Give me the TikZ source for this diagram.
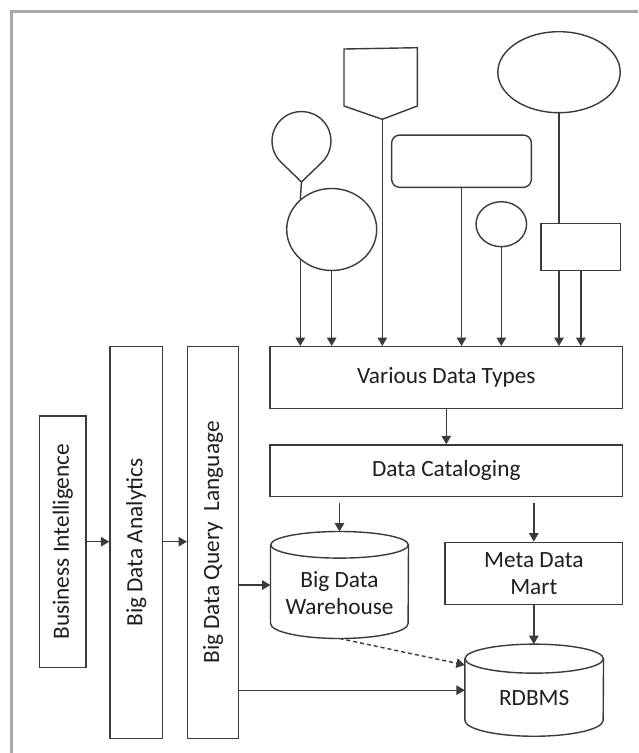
\documentclass[tikz,border=0pt]{standalone}
\usepackage{fontspec}
\setmainfont{Carlito}
\usepackage{xcolor}
\usepackage{tikz}
\usetikzlibrary{shapes.geometric,arrows.meta}
\definecolor{linecolor}{HTML}{3a3a3a}
\definecolor{textcolor}{HTML}{1e1e1e}
\definecolor{framecolor}{HTML}{a8a8a8}
\tikzset{
  box/.style={draw=linecolor, line width=1.4pt, rectangle, inner sep=0pt, text=textcolor, align=center, font=\fontsize{23.3pt}{26.7pt}\selectfont},
  blob/.style={draw=linecolor, line width=1.4pt, ellipse, inner sep=0pt},
  cylbox/.style={rectangle, inner sep=0pt},
  cylline/.style={draw=linecolor, line width=1.4pt},
  ctext/.style={align=center, yshift=-8pt, text=textcolor, font=\fontsize{23.3pt}{26.7pt}\selectfont},
  arr/.style={draw=linecolor, line width=1.4pt, -{Triangle[length=8.5pt,width=9.5pt]}},
  dasharr/.style={arr, dash pattern=on 4pt off 3pt},
  vlabel/.style={rotate=90, text=textcolor, font=\fontsize{23.3pt}{26.7pt}\selectfont}
}
\begin{document}
\begin{tikzpicture}[x=1pt, y=1pt]%
\useasboundingbox (0,0) rectangle (638,-753);%
\draw[framecolor, line width=2.5pt] (11.3,-753) -- (11.3,-11.3) -- (638,-11.3);%
\draw[cylline] (301.5,-182) -- ([shift={(-46:29.5)}]301.5,-141) arc[start angle=-46, end angle=226, radius=29.5] -- cycle;%
\coordinate (droptip) at (301.5,-182);%
\draw[cylline] (344,-49) -- (344,-106) -- (382.3,-119.3) -- (417.3,-106) -- (417.3,-47.7) -- cycle;%
\coordinate (shieldtip) at (382.3,-119.3);%
\node[blob, minimum width=90, minimum height=82] (bigcirc) at (331.7,-229.5) {};%
\node[box, rounded corners=8pt, minimum width=139.7, minimum height=52.3] (rrect) at (461.5,-161.2) {};%
\node[blob, minimum width=50.6, minimum height=45] (smallcirc) at (501.3,-224.2) {};%
\node[blob, minimum width=122.4, minimum height=81] (bigell) at (559,-72.2) {};%
\node[box, minimum width=79.7, minimum height=47.3] (srect) at (580.8,-247) {};%
\node[box, minimum width=352.7, minimum height=61.6] (vdt) at (446.3,-377.5) {Various Data Types};%
\node[box, minimum width=352.7, minimum height=51.7] (dc) at (446.3,-470.8) {Data Cataloging};%
\node[box, minimum width=46.7, minimum height=251.3, label={[vlabel]center:Business Intelligence}] (bi) at (62.7,-541.7) {};%
\node[box, minimum width=52.3, minimum height=391.6, label={[vlabel]center:Big Data Analytics}] (bda) at (136.2,-542.5) {};%
\node[box, minimum width=50.6, minimum height=391.6, label={[vlabel]center:Big Data Query\ \ Language}] (bdql) at (213,-542.5) {};%
\node[cylbox, minimum width=137.6, minimum height=106.6, label={[ctext]center:{Big Data\\Warehouse}}] (wh) at (339.5,-585) {};%
\draw[cylline] ([yshift=-13.3pt]wh.north) ellipse[x radius=68.8, y radius=13.3];%
\draw[cylline] ([yshift=-13.3pt]wh.north west) -- ([yshift=15pt]wh.south west) arc[start angle=180, end angle=360, x radius=68.8, y radius=15] -- ([yshift=-13.3pt]wh.north east);%
\node[box, minimum width=177.7, minimum height=62] (mdm) at (533.8,-573.3) {Meta Data\\Mart};%
\node[cylbox, minimum width=138.3, minimum height=91.7, label={[ctext]center:RDBMS}] (rdbms) at (534.2,-690.2) {};%
\draw[cylline] ([yshift=-14.5pt]rdbms.north) ellipse[x radius=69.15, y radius=14.5];%
\draw[cylline] ([yshift=-14.5pt]rdbms.north west) -- ([yshift=16pt]rdbms.south west) arc[start angle=180, end angle=360, x radius=69.15, y radius=16] -- ([yshift=-14.5pt]rdbms.north east);%
\draw[cylline] (droptip) -- (bigcirc.136);%
\draw[cylline] (bigell.south) -- (bigell.south |- srect.north);%
\draw[arr] (bigcirc.224) -- (bigcirc.224 |- vdt.north);%
\draw[arr] (bigcirc.south) -- (bigcirc.south |- vdt.north);%
\draw[arr] (shieldtip) -- (shieldtip |- vdt.north);%
\draw[arr] (rrect.south) -- (rrect.south |- vdt.north);%
\draw[arr] (smallcirc.south) -- (smallcirc.south |- vdt.north);%
\draw[arr] (bigell.south |- srect.south) -- (bigell.south |- vdt.north);%
\draw[arr] (srect.south) -- (srect.south |- vdt.north);%
\draw[arr] (vdt.south) -- (vdt.south |- dc.north);%
\draw[arr] ([yshift=-6pt]dc.south -| wh.north) -- (wh.north);%
\draw[arr] ([yshift=-6pt]dc.south -| mdm.north) -- (mdm.north);%
\draw[arr] (mdm.south) -- (mdm.south |- rdbms.north);%
\draw[arr] (bi.east) -- (bi.east -| bda.west);%
\draw[arr] (bi.east -| bda.east) -- (bi.east -| bdql.west);%
\draw[arr] (wh.west -| bdql.east) -- (wh.west);%
\draw[arr] (rdbms.west -| bdql.east) -- (rdbms.west);%
\draw[dasharr] (wh.south) -- (rdbms.160);%
\end{tikzpicture}
\end{document}
